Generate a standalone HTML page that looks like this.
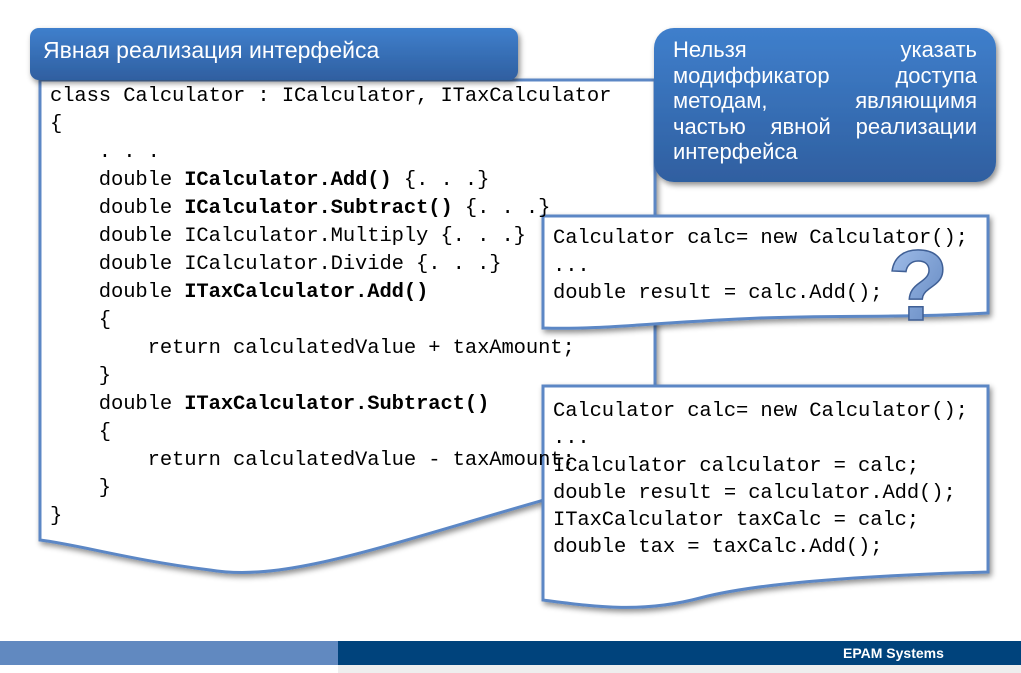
<!DOCTYPE html>
<html><head><meta charset="utf-8"><style>
body{margin:0;width:1021px;height:673px;position:relative;background:#fff;overflow:hidden;font-family:"Liberation Sans","DejaVu Sans",sans-serif}
.abs{position:absolute}
.code{font-family:"Liberation Mono",monospace;font-size:20.5px;white-space:pre;color:#000;letter-spacing:-0.1px}
.code b{font-weight:bold}
.j{text-align:justify;text-align-last:justify;height:25.5px}
</style></head><body>
<svg class="abs" style="left:0;top:0" width="1021" height="673">
<defs>
<linearGradient id="bl" x1="0" y1="0" x2="0" y2="1"><stop offset="0" stop-color="#3f7fcc"/><stop offset="1" stop-color="#2f5fa0"/></linearGradient>
<linearGradient id="q" x1="0" y1="0" x2="1" y2="1"><stop offset="0" stop-color="#a8c4ee"/><stop offset="1" stop-color="#5a80bb"/></linearGradient>
<filter id="sh" x="-5%" y="-5%" width="115%" height="120%"><feDropShadow dx="2" dy="3" stdDeviation="3" flood-color="#000" flood-opacity="0.45"/></filter>
</defs>
<path d="M40,80 L655,80 L655,470 C420,530 300,585 210,570 C130,560 80,545 40,540 Z" fill="#fff" stroke="#5b87c5" stroke-width="3" filter="url(#sh)"/>
<rect x="30" y="28" width="488" height="52" rx="9" fill="url(#bl)" filter="url(#sh)"/>
<rect x="654" y="28" width="342" height="154" rx="20" fill="url(#bl)" filter="url(#sh)"/>
<path d="M543,216 L988,216 L988,313 C900,318 840,315 760,318 C660,322 600,330 543,328 Z" fill="#fff" stroke="#5b87c5" stroke-width="3" filter="url(#sh)"/>
<path d="M543,386 L988,386 L988,572 C880,575 760,582 700,598 C640,614 590,606 543,600 Z" fill="#fff" stroke="#5b87c5" stroke-width="3" filter="url(#sh)"/>
<text x="918" y="320" font-size="100" font-weight="bold" fill="url(#q)" stroke="#3f5f95" stroke-width="1.5" text-anchor="middle" font-family="Liberation Sans,sans-serif">?</text>
<rect x="0" y="641" width="338" height="24" fill="#6189c0"/>
<rect x="338" y="641" width="683" height="24" fill="#00437c"/>
<rect x="338" y="665" width="683" height="8" fill="#eeeeee"/>
</svg>
<div class="abs" style="left:43px;top:37px;color:#fff;font-size:23px">Явная реализация интерфейса</div>
<div class="abs" style="left:673px;top:37px;width:304px;color:#fff;font-size:22px;line-height:25.5px">
<div class="j">Нельзя указать</div>
<div class="j">модиффикатор доступа</div>
<div class="j">методам, являющимя</div>
<div class="j">частью явной реализации</div>
<div>интерфейса</div>
</div>
<div class="abs code" style="left:50px;top:83px;line-height:28px">class Calculator : ICalculator, ITaxCalculator
{
    . . .
    double <b>ICalculator.Add()</b> {. . .}
    double <b>ICalculator.Subtract()</b> {. . .}
    double ICalculator.Multiply {. . .}
    double ICalculator.Divide {. . .}
    double <b>ITaxCalculator.Add()</b>
    {
        return calculatedValue + taxAmount;
    }
    double <b>ITaxCalculator.Subtract()</b>
    {
        return calculatedValue - taxAmount;
    }
}</div>
<div class="abs code" style="left:553px;top:225px;line-height:27.5px">Calculator calc= new Calculator();
...
double result = calc.Add();</div>
<div class="abs code" style="left:553px;top:398px;line-height:27.3px">Calculator calc= new Calculator();
...
ICalculator calculator = calc;
double result = calculator.Add();
ITaxCalculator taxCalc = calc;
double tax = taxCalc.Add();</div>
<div class="abs" style="left:843px;top:645px;color:#fff;font-size:14px;font-weight:bold">EPAM Systems</div>
</body></html>
